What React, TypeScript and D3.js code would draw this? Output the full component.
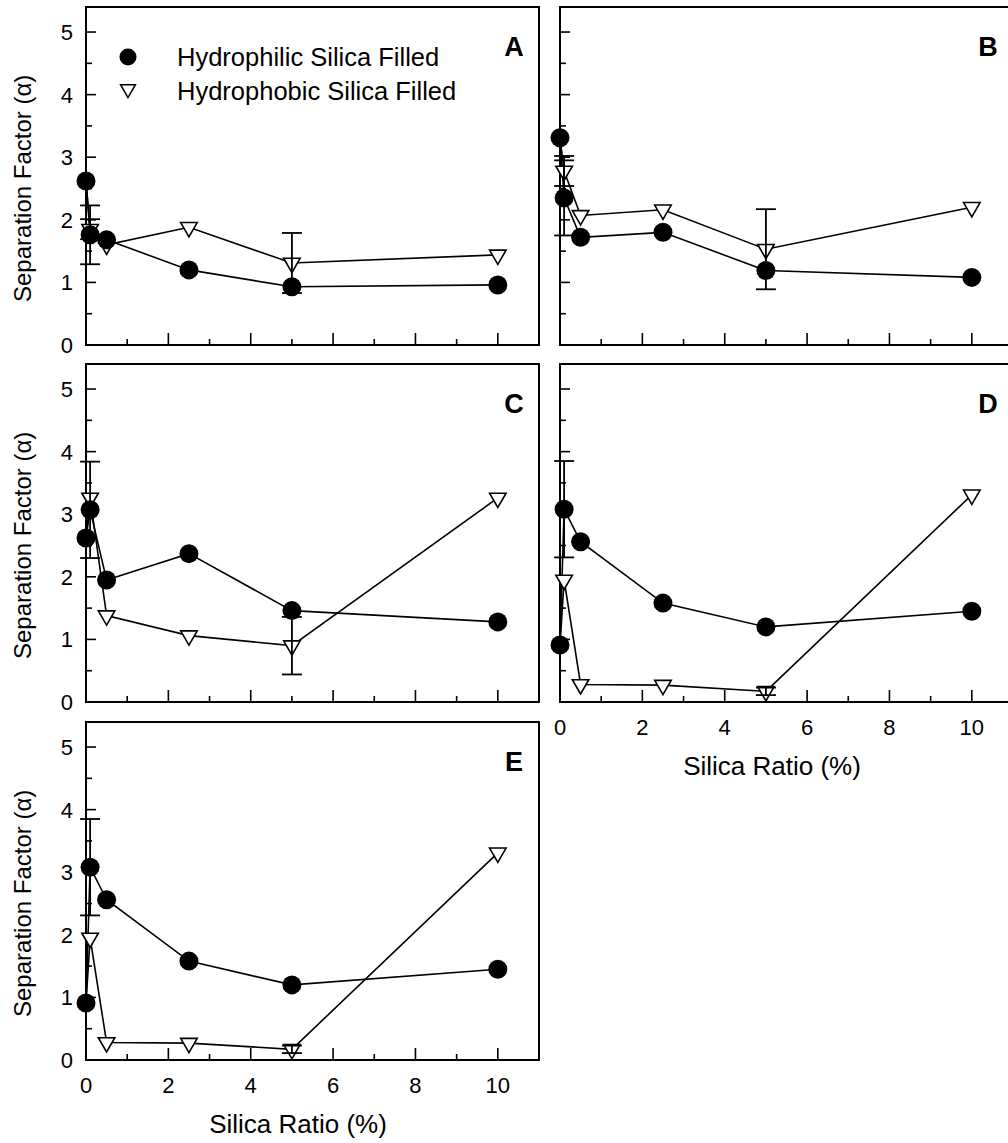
import React from "react";
import * as d3 from "d3";

// ---- data ----
const silicaRatio = [0, 0.1, 0.5, 2.5, 5, 10];
const panelNames = ["A", "B", "C", "D", "E"];
const seriesNames = ["Hydrophilic Silica Filled", "Hydrophobic Silica Filled"];

const hydrophilicA = [2.62, 1.76, 1.68, 1.2, 0.93, 0.96];
const hydrophobicA = [2.62, 1.85, 1.6, 1.88, 1.31, 1.44];
const hydrophilicErrA = [0, 0.47, 0, 0, 0, 0];
const hydrophobicErrA = [0, 0.16, 0, 0, 0.48, 0];

const hydrophilicB = [3.31, 2.35, 1.72, 1.8, 1.19, 1.08];
const hydrophobicB = [3.31, 2.78, 2.07, 2.16, 1.53, 2.2];
const hydrophilicErrB = [0, 0.6, 0, 0, 0, 0];
const hydrophobicErrB = [0, 0.24, 0, 0, 0.64, 0];

const hydrophilicC = [2.62, 3.07, 1.95, 2.37, 1.46, 1.28];
const hydrophobicC = [2.62, 3.26, 1.38, 1.06, 0.9, 3.26];
const hydrophilicErrC = [0, 0.77, 0, 0, 0, 0];
const hydrophobicErrC = [0, 0, 0, 0, 0.46, 0];

const hydrophilicD = [0.91, 3.08, 2.56, 1.58, 1.2, 1.45];
const hydrophobicD = [0.91, 1.95, 0.28, 0.27, 0.17, 3.31];
const hydrophilicErrD = [0, 0.77, 0, 0, 0, 0];
const hydrophobicErrD = [0, 0, 0, 0, 0.06, 0];

const hydrophilicE = [0.91, 3.08, 2.56, 1.58, 1.2, 1.45];
const hydrophobicE = [0.91, 1.95, 0.28, 0.27, 0.17, 3.31];
const hydrophilicErrE = [0, 0.77, 0, 0, 0, 0];
const hydrophobicErrE = [0, 0, 0, 0, 0.06, 0];

const xMajorTicks = [0, 2, 4, 6, 8, 10];
const xMinorTicks = [1, 3, 5, 7, 9];
const yMajorTicks = [0, 1, 2, 3, 4, 5];
const yMinorTicks = [0.5, 1.5, 2.5, 3.5, 4.5];
const xDomain = [0, 11];
const yDomain = [0, 5.4];

const yTitle = "Separation Factor (α)";
const xTitle = "Silica Ratio (%)";

// ---- layout ----
const W = 1008;
const H = 1143;
const colX = [86, 560];
const rowTop = [7, 364, 722];
const panelW = 453;
const panelH = 338;
const FONT = "'Liberation Sans', Arial, Helvetica, sans-serif";

const panels = [
  { name: panelNames[0], col: 0, row: 0, phil: hydrophilicA, phob: hydrophobicA, philErr: hydrophilicErrA, phobErr: hydrophobicErrA, xLabels: false, legend: true },
  { name: panelNames[1], col: 1, row: 0, phil: hydrophilicB, phob: hydrophobicB, philErr: hydrophilicErrB, phobErr: hydrophobicErrB, xLabels: false, legend: false },
  { name: panelNames[2], col: 0, row: 1, phil: hydrophilicC, phob: hydrophobicC, philErr: hydrophilicErrC, phobErr: hydrophobicErrC, xLabels: false, legend: false },
  { name: panelNames[3], col: 1, row: 1, phil: hydrophilicD, phob: hydrophobicD, philErr: hydrophilicErrD, phobErr: hydrophobicErrD, xLabels: true, legend: false },
  { name: panelNames[4], col: 0, row: 2, phil: hydrophilicE, phob: hydrophobicE, philErr: hydrophilicErrE, phobErr: hydrophobicErrE, xLabels: true, legend: false },
];

const triPath = d3.symbol().type(d3.symbolTriangle).size(118)() as string;

function Triangle({ x, y }: { x: number; y: number }) {
  return (
    <path
      d={triPath}
      transform={`translate(${x},${y}) rotate(180)`}
      fill="#fff"
      stroke="#000"
      strokeWidth={1.6}
    />
  );
}

function Panel({ p }: { p: (typeof panels)[number] }) {
  const x0 = colX[p.col];
  const top = rowTop[p.row];
  const bottom = top + panelH;
  const x = d3.scaleLinear().domain(xDomain).range([x0, x0 + panelW]);
  const y = d3.scaleLinear().domain(yDomain).range([bottom, top]);
  const line = d3
    .line<number>()
    .x((_, i) => x(silicaRatio[i]))
    .y((d) => y(d));
  const cap = 10;

  const errBars = (vals: number[], errs: number[], key: string) =>
    vals.map((v, i) =>
      errs[i] > 0 ? (
        <g key={key + i} stroke="#000" strokeWidth={1.8}>
          <line x1={x(silicaRatio[i])} x2={x(silicaRatio[i])} y1={y(v - errs[i])} y2={y(v + errs[i])} />
          <line x1={x(silicaRatio[i]) - cap} x2={x(silicaRatio[i]) + cap} y1={y(v + errs[i])} y2={y(v + errs[i])} />
          <line x1={x(silicaRatio[i]) - cap} x2={x(silicaRatio[i]) + cap} y1={y(v - errs[i])} y2={y(v - errs[i])} />
        </g>
      ) : null
    );

  return (
    <g>
      {/* ticks */}
      <g stroke="#000" strokeWidth={1.6}>
        {yMajorTicks.map((t) => (
          <line key={"ym" + t} x1={x0} x2={x0 + 10} y1={y(t)} y2={y(t)} />
        ))}
        {yMinorTicks.map((t) => (
          <line key={"yn" + t} x1={x0} x2={x0 + 6} y1={y(t)} y2={y(t)} />
        ))}
        {xMajorTicks.map((t) => (
          <line key={"xm" + t} x1={x(t)} x2={x(t)} y1={bottom} y2={bottom - 12} />
        ))}
        {xMinorTicks.map((t) => (
          <line key={"xn" + t} x1={x(t)} x2={x(t)} y1={bottom} y2={bottom - 6} />
        ))}
      </g>
      <rect x={x0} y={top} width={panelW} height={panelH} fill="none" stroke="#000" strokeWidth={2} />
      {p.col === 0 &&
        yMajorTicks.map((t) => (
          <text key={"yl" + t} x={x0 - 13} y={y(t)} dy="0.36em" textAnchor="end" fontSize={22} fontFamily={FONT}>
            {t}
          </text>
        ))}
      {p.col === 0 && (
        <text
          transform={`translate(31,${bottom - 43}) rotate(-90)`}
          textAnchor="start"
          fontSize={24}
          fontFamily={FONT}
        >
          {yTitle}
        </text>
      )}
      {p.xLabels &&
        xMajorTicks.map((t) => (
          <text key={"xl" + t} x={x(t)} y={bottom + 33} textAnchor="middle" fontSize={22} fontFamily={FONT}>
            {t}
          </text>
        ))}
      {p.xLabels && (
        <text x={x0 + 212} y={bottom + 73} textAnchor="middle" fontSize={26} fontFamily={FONT}>
          {xTitle}
        </text>
      )}
      {/* lines */}
      <path d={line(p.phob) as string} fill="none" stroke="#000" strokeWidth={1.6} />
      <path d={line(p.phil) as string} fill="none" stroke="#000" strokeWidth={1.6} />
      {p.phob.map((v, i) => (i === 0 ? null : <Triangle key={"t" + i} x={x(silicaRatio[i])} y={y(v)} />))}
      {errBars(p.phob, p.phobErr, "eb")}
      {errBars(p.phil, p.philErr, "ea")}
      {p.phil.map((v, i) => (
        <circle key={"c" + i} cx={x(silicaRatio[i])} cy={y(v)} r={9.5} fill="#000" />
      ))}
      <text
        x={x0 + 428}
        y={y(4.78)}
        dy="0.36em"
        textAnchor="middle"
        fontSize={27}
        fontWeight="bold"
        fontFamily={FONT}
      >
        {p.name}
      </text>
      {p.legend && (
        <g fontFamily={FONT} fontSize={25.5}>
          <circle cx={128} cy={57} r={8.5} fill="#000" />
          <text x={177} y={66}>{seriesNames[0]}</text>
          <path
            d={d3.symbol().type(d3.symbolTriangle).size(95)() as string}
            transform="translate(128,89) rotate(180)"
            fill="#fff"
            stroke="#000"
            strokeWidth={1.5}
          />
          <text x={177} y={100}>{seriesNames[1]}</text>
        </g>
      )}
    </g>
  );
}

export default function App() {
  return (
    <div style={{ position: "absolute", left: 0, top: 0, width: W, height: H, background: "#fff" }}>
      <svg width={W} height={H} viewBox={`0 0 ${W} ${H}`} style={{ display: "block" }}>
        <rect x={0} y={0} width={W} height={H} fill="#fff" />
        {panels.map((p) => (
          <Panel key={p.name} p={p} />
        ))}
      </svg>
    </div>
  );
}
